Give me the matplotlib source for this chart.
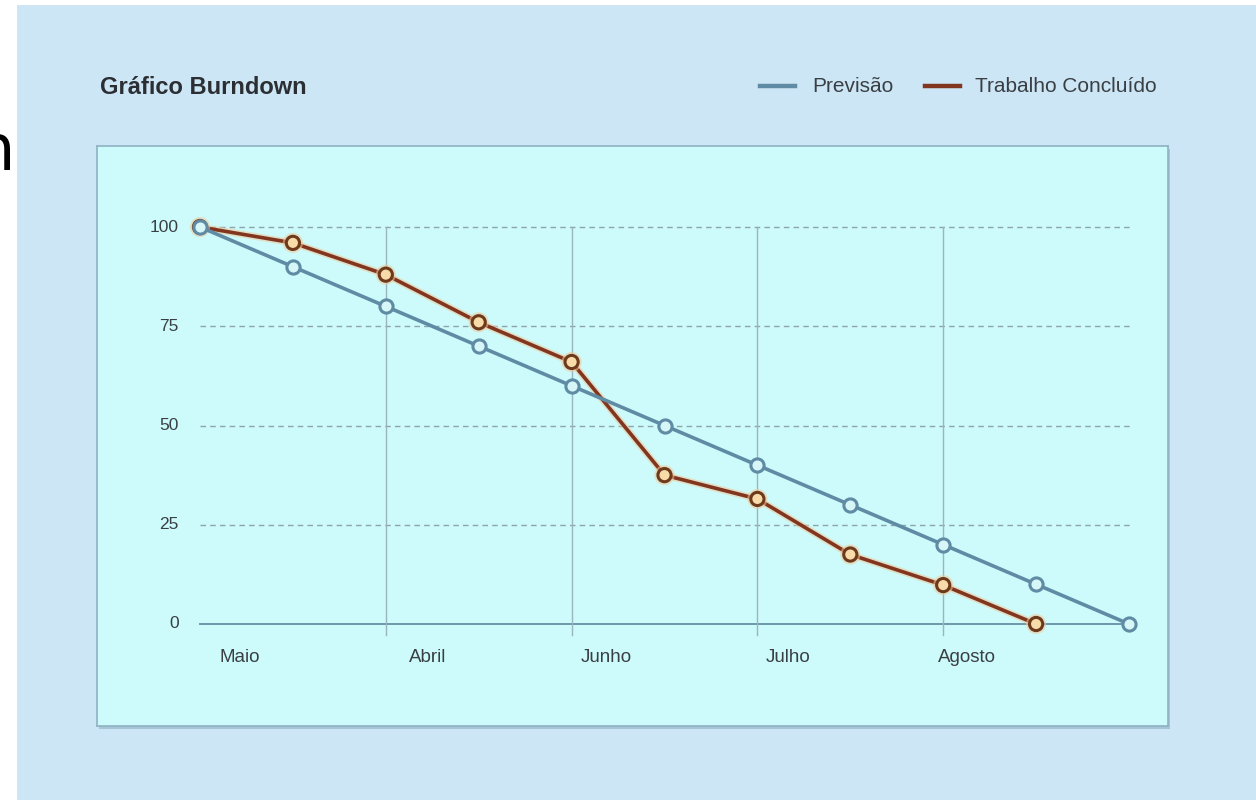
import matplotlib
matplotlib.use("Agg")
import matplotlib.pyplot as plt
from matplotlib.patches import Rectangle
from matplotlib.lines import Line2D
import matplotlib.patheffects as pe

plt.rcParams['font.family'] = ['Liberation Sans', 'DejaVu Sans']

# ---- data ----
title = "Gráfico Burndown"
series_names = ["Previsão", "Trabalho Concluído"]
previsao = [100, 90, 80, 70, 60, 50, 40, 30, 20, 10, 0]
concluido = [100, 96, 88, 76, 66, 37.5, 31.5, 17.5, 9.8, 0]
month_labels = ["Maio", "Abril", "Junho", "Julho", "Agosto"]
month_ticks = [0, 2, 4, 6, 8]
y_ticks = [0, 25, 50, 75, 100]

# ---- style ----
W, H = 1256, 800
fig = plt.figure(figsize=(W / 100, H / 100), dpi=100, facecolor="white")

bg = "#cce6f5"
panel = "#cdfbfb"
c_prev = "#5f8ca4"
c_conc = "#823620"
txt = "#3a3f44"

fig.patches.append(Rectangle((17 / W, 0), (W - 17) / W, (H - 5) / H,
                             transform=fig.transFigure, facecolor=bg,
                             edgecolor="none", zorder=-3))
# partial glyph at the left edge
fig.text(15 / W, 1 - 152 / H, "n", ha="right", va="center",
         fontsize=46, color="black", family="DejaVu Sans")

# shadow of panel
fig.patches.append(Rectangle((99 / W, 1 - 729 / H), (1168 - 97) / W, (726 - 146) / H,
                             transform=fig.transFigure, facecolor="#a6c6d8",
                             edgecolor="none", zorder=-2))

ax = fig.add_axes([97 / W, 1 - 726 / H, (1168 - 97) / W, (726 - 146) / H])
ax.set_zorder(1)
ax.set_facecolor(panel)
for s in ax.spines.values():
    s.set_color("#8fb2c2")
    s.set_linewidth(1.2)

px0, dx = 200, 92.9
py0, dy = 624, 3.97
ax.set_xlim((97 - px0) / dx, (1168 - px0) / dx)
ax.set_ylim((624 - 726) / dy, (624 - 146) / dy)
ax.set_xticks([])
ax.set_yticks([])

x_end = (1133 - px0) / dx
# horizontal grid
for v in y_ticks:
    if v == 0:
        ax.plot([0, x_end], [0, 0], color="#6e98aa", lw=1.4, zorder=1)
    else:
        ax.plot([0, x_end], [v, v], color="#8ea4ad", lw=1.0,
                ls=(0, (4, 3)), zorder=1)
    ax.text(-0.23, v, str(v), ha="right", va="center", fontsize=12.5, color=txt)

# vertical grid
for t in month_ticks[1:]:
    ax.plot([t, t], [-2.8, 100], color="#9cb3c0", lw=1.0, zorder=1)

label_offsets = [0.43, 0.45, 0.37, 0.33, 0.26]
for t, lab, off in zip(month_ticks, month_labels, label_offsets):
    ax.text(t + off, -8.5, lab, ha="center", va="center", fontsize=13.5, color=txt)

halo = [pe.Stroke(linewidth=5, foreground="#f0c99a", alpha=0.55), pe.Normal()]

ax.plot(range(len(concluido)), concluido, color=c_conc, lw=2.6, zorder=3,
        marker="o", ms=9.5, mfc="#f7dcaa", mec="#6e3a1c", mew=2.2,
        path_effects=halo)
ax.plot(range(len(previsao)), previsao, color=c_prev, lw=2.6, zorder=4,
        marker="o", ms=9.5, mfc="#d7f6f8", mec=c_prev, mew=2.2)

# title
fig.text(100 / W, 1 - 88 / H, title, ha="left", va="center",
         fontsize=17, fontweight="bold", color="#2b2f33")

# legend (manual)
ly = 1 - 86 / H
fig.add_artist(Line2D([760 / W, 795 / W], [ly, ly], color=c_prev, lw=3.2))
fig.text(812 / W, ly, series_names[0], ha="left", va="center", fontsize=15, color=txt)
fig.add_artist(Line2D([925 / W, 960 / W], [ly, ly], color=c_conc, lw=3.2))
fig.text(975 / W, ly, series_names[1], ha="left", va="center", fontsize=15, color=txt)

fig.savefig("out.png", dpi=100, facecolor=fig.get_facecolor())
